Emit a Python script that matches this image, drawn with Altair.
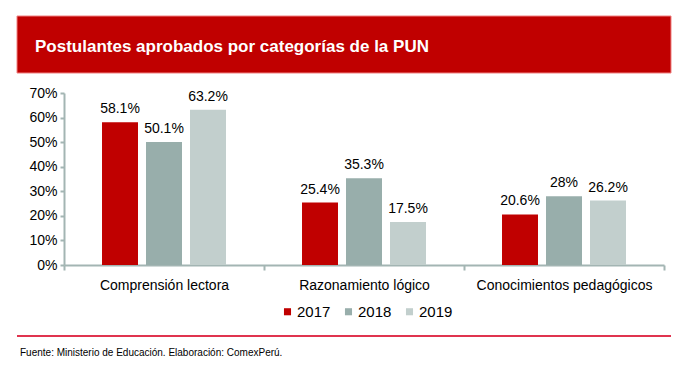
import altair as alt
import pandas as pd

categories = ["Comprensión lectora", "Razonamiento lógico", "Conocimientos pedagógicos"]
years = ["2017", "2018", "2019"]
values = {
    "2017": [58.1, 25.4, 20.6],
    "2018": [50.1, 35.3, 28.0],
    "2019": [63.2, 17.5, 26.2],
}
labels = {
    "2017": ["58.1%", "25.4%", "20.6%"],
    "2018": ["50.1%", "35.3%", "28%"],
    "2019": ["63.2%", "17.5%", "26.2%"],
}
colors = ["#c00000", "#98aeab", "#c2cfcd"]
title_text = "Postulantes aprobados por categorías de la PUN"
source_text = "Fuente: Ministerio de Educación. Elaboración: ComexPerú."

rows = []
for y in years:
    for i, c in enumerate(categories):
        rows.append({"cat": c, "year": y, "value": values[y][i] / 100, "label": labels[y][i]})
df = pd.DataFrame(rows)

FONT = "Liberation Sans"
W, H = 600, 172

x = alt.X("cat:N", sort=categories, title=None,
          scale=alt.Scale(paddingInner=0, paddingOuter=0),
          axis=alt.Axis(labelAngle=0, labelFontSize=14, labelColor="#000000", labelFont=FONT,
                        domainColor="#a3b5b3", domainWidth=2, tickColor="#a3b5b3", tickWidth=2,
                        tickSize=5, tickBand="extent", labelPadding=8))
xo = alt.XOffset("year:N", sort=years,
                 scale=alt.Scale(paddingInner=0.182, paddingOuter=0.864))
yenc = alt.Y("value:Q", title=None,
             scale=alt.Scale(domain=[0, 0.7]),
             axis=alt.Axis(format=".0%", values=[0, 0.1, 0.2, 0.3, 0.4, 0.5, 0.6, 0.7],
                           labelOverlap=False, labelFlush=False,
                           labelFontSize=14, labelColor="#000000", labelFont=FONT,
                           domainColor="#a3b5b3", domainWidth=2, tickColor="#a3b5b3",
                           tickWidth=2, tickSize=4, labelPadding=3, grid=False))

base = alt.Chart(df)
bars = base.mark_bar().encode(
    x=x, xOffset=xo, y=yenc,
    color=alt.Color("year:N", sort=years, scale=alt.Scale(domain=years, range=colors),
                    legend=alt.Legend(title=None, orient="none", direction="horizontal",
                                      legendX=216, legendY=211, symbolType="square",
                                      symbolSize=50, labelFontSize=15, labelFont=FONT,
                                      labelColor="#000000", columnPadding=10,
                                      symbolStrokeWidth=0, labelOffset=2)),
)
texts = base.mark_text(baseline="bottom", dy=-6, fontSize=14, font=FONT, color="#000000").encode(
    x=x, xOffset=xo, y=yenc, text="label:N")

banner_df = pd.DataFrame({"t": [title_text]})
banner = alt.Chart(banner_df).mark_rect(color="#c00000", stroke="#f08080", strokeWidth=1).encode(
    x=alt.value(-47), x2=alt.value(607), y=alt.value(-77), y2=alt.value(-20))
title = alt.Chart(banner_df).mark_text(align="left", baseline="middle", color="white",
                                        fontSize=17, fontWeight="bold", font=FONT).encode(
    x=alt.value(-29), y=alt.value(-46), text="t:N")
rule = alt.Chart(banner_df).mark_rule(color="#e0344f", strokeWidth=2).encode(
    x=alt.value(-47), x2=alt.value(607), y=alt.value(243))
src_df = pd.DataFrame({"t": [source_text]})
source = alt.Chart(src_df).mark_text(align="left", baseline="middle", color="#000000",
                                      fontSize=10, font=FONT).encode(
    x=alt.value(-44), y=alt.value(260), text="t:N")

chart = alt.layer(bars, texts, banner, title, rule, source).properties(
    width=W, height=H,
    autosize=alt.AutoSizeParams(type="none"),
    padding={"left": 56, "top": 85, "right": 15, "bottom": 104},
).configure(background="white").configure_view(strokeOpacity=0, strokeWidth=0)

chart.save("out.html", embed_options={"renderer": "svg", "actions": False})
